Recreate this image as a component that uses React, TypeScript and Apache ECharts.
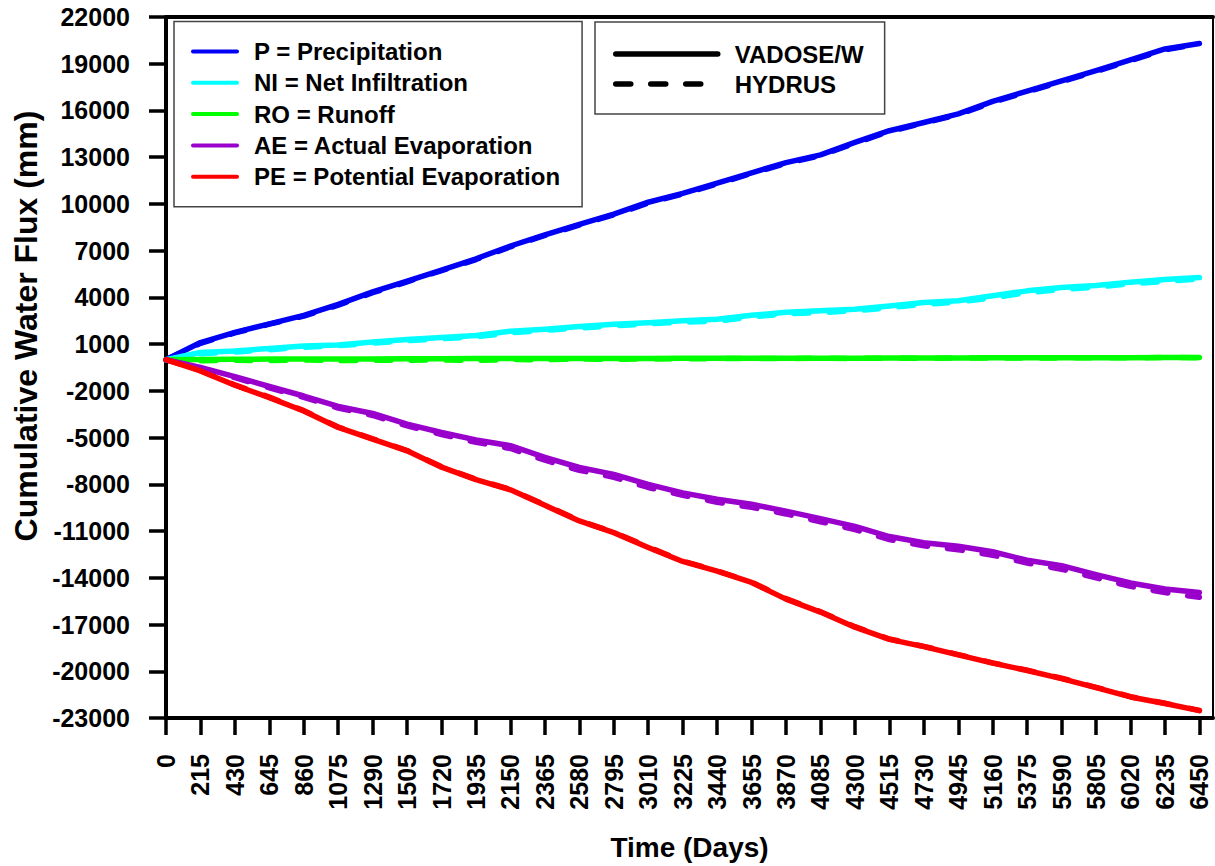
import React, { useEffect, useRef } from 'react';
import * as echarts from 'echarts';

// Time axis (days) – sampling points and tick labels
const days = [
  0, 215, 430, 645, 860, 1075, 1290, 1505, 1720, 1935, 2150, 2365, 2580, 2795, 3010, 3225,
  3440, 3655, 3870, 4085, 4300, 4515, 4730, 4945, 5160, 5375, 5590, 5805, 6020, 6235, 6450,
];

// Cumulative water flux tick labels (mm)
const fluxTicks = [
  -23000, -20000, -17000, -14000, -11000, -8000, -5000, -2000, 1000, 4000, 7000, 10000,
  13000, 16000, 19000, 22000,
];

// VADOSE/W results (mm)
const precipVadose = [
  0, 1100, 1750, 2300, 2850, 3550, 4350, 5050, 5750, 6480, 7300, 8020, 8690, 9350, 10110, 10680,
  11330, 12000, 12650, 13150, 13950, 14700, 15230, 15780, 16580, 17240, 17900, 18560, 19250, 19950, 20300,
];
const infilVadose = [
  0, 460, 560, 720, 880, 950, 1140, 1300, 1420, 1550, 1830, 1960, 2130, 2280, 2380, 2500,
  2600, 2850, 3040, 3140, 3240, 3450, 3670, 3790, 4110, 4420, 4640, 4760, 4980, 5150, 5270,
];
const runoffVadose = [
  0, 20, 30, 40, 40, 50, 50, 60, 60, 70, 70, 70, 80, 80, 80, 90,
  90, 90, 100, 100, 100, 110, 110, 110, 120, 120, 130, 130, 130, 140, 140,
];
const actEvapVadose = [
  0, -500, -1080, -1720, -2330, -3000, -3450, -4130, -4670, -5150, -5520, -6270, -6920, -7360, -8000, -8550,
  -8960, -9280, -9720, -10200, -10700, -11350, -11750, -11980, -12330, -12870, -13220, -13800, -14330, -14720, -14950,
];
const potEvapVadose = [
  0, -720, -1640, -2430, -3290, -4350, -5100, -5850, -6900, -7700, -8350, -9350, -10350, -11100, -12050, -12950,
  -13570, -14300, -15370, -16200, -17170, -17950, -18420, -18950, -19480, -19950, -20470, -21050, -21650, -22070, -22530,
];

// HYDRUS results (mm)
const precipHydrus = [
  0, 1050, 1720, 2280, 2800, 3500, 4300, 5000, 5720, 6430, 7250, 7980, 8640, 9300, 10050, 10640,
  11280, 11960, 12600, 13100, 13900, 14650, 15190, 15740, 16520, 17200, 17850, 18500, 19200, 19900, 20250,
];
const infilHydrus = [
  0, 380, 500, 640, 800, 900, 1060, 1220, 1350, 1470, 1720, 1880, 2030, 2180, 2300, 2410,
  2480, 2740, 2950, 3020, 3150, 3330, 3560, 3700, 3980, 4300, 4510, 4650, 4870, 5020, 5180,
];
const runoffHydrus = [
  0, -60, -40, -50, -20, -60, -30, -40, -10, -40, 10, 0, 40, 30, 50, 60,
  70, 70, 80, 90, 80, 100, 90, 110, 100, 120, 110, 130, 120, 140, 130,
];
const actEvapHydrus = [
  0, -560, -1150, -1800, -2420, -3100, -3580, -4250, -4800, -5300, -5700, -6450, -7100, -7550, -8200, -8700,
  -9150, -9480, -9900, -10400, -10900, -11550, -11950, -12200, -12550, -13050, -13450, -14000, -14550, -14950, -15250,
];
const potEvapHydrus = [
  0, -700, -1620, -2400, -3270, -4320, -5080, -5830, -6870, -7680, -8330, -9320, -10330, -11080, -12020, -12920,
  -13550, -14280, -15340, -16180, -17140, -17930, -18400, -18930, -19460, -19930, -20450, -21030, -21630, -22050, -22510,
];

const fluxNames = [
  'P = Precipitation',
  'NI = Net Infiltration',
  'RO = Runoff',
  'AE = Actual Evaporation',
  'PE = Potential Evaporation',
];
const fluxColors = ['#0000f5', '#00ffff', '#00ff00', '#9900cc', '#ff0000'];
const vadoseSets = [precipVadose, infilVadose, runoffVadose, actEvapVadose, potEvapVadose];
const hydrusSets = [precipHydrus, infilHydrus, runoffHydrus, actEvapHydrus, potEvapHydrus];

const FONT = "'Liberation Sans', Arial, Helvetica, sans-serif";
const DASH = [15, 20];

const toPairs = (ys: number[]) => days.map((d, i) => [d, ys[i]]);

export default function App() {
  const ref = useRef<HTMLDivElement>(null);

  useEffect(() => {
    const chart = echarts.init(ref.current!, null, { renderer: 'svg' });

    const series: any[] = [];
    fluxNames.forEach((name, k) => {
      series.push({
        name,
        type: 'line',
        data: toPairs(vadoseSets[k]),
        symbol: 'none',
        color: fluxColors[k],
        lineStyle: { width: 5.5, color: fluxColors[k], cap: 'round', join: 'round' },
        z: 3,
      });
    });
    fluxNames.forEach((name, k) => {
      series.push({
        name,
        type: 'line',
        data: toPairs(hydrusSets[k]),
        symbol: 'none',
        color: fluxColors[k],
        lineStyle: { width: 5.5, color: fluxColors[k], type: DASH, cap: 'round' },
        z: 2,
      });
    });
    series.push({
      name: 'VADOSE/W',
      type: 'line',
      data: [],
      symbol: 'none',
      color: '#000',
      lineStyle: { width: 5, color: '#000', cap: 'round' },
    });
    series.push({
      name: 'HYDRUS',
      type: 'line',
      data: [],
      symbol: 'none',
      color: '#000',
      lineStyle: { width: 6, color: '#000', type: DASH, cap: 'round' },
    });

    const legendText = {
      fontFamily: FONT,
      fontSize: 24,
      fontWeight: 'bold',
      color: '#000',
      lineHeight: 24,
      padding: [0, 0, 0, 12],
    };

    chart.setOption({
      animation: false,
      backgroundColor: '#fff',
      grid: {
        left: 166,
        top: 17,
        right: 2,
        bottom: 147,
        show: true,
        borderColor: '#000',
        borderWidth: 2,
        backgroundColor: 'transparent',
      },
      legend: [
        {
          data: fluxNames,
          orient: 'vertical',
          left: 174,
          top: 21.5,
          padding: [18, 22, 18, 17],
          itemGap: 7.3,
          itemWidth: 44,
          itemHeight: 24,
          borderColor: '#444',
          borderWidth: 1.5,
          backgroundColor: '#fff',
          itemStyle: { opacity: 0 },
          lineStyle: { width: 4, cap: 'round' },
          textStyle: legendText,
        },
        {
          data: ['VADOSE/W', 'HYDRUS'],
          orient: 'vertical',
          left: 595,
          top: 22,
          padding: [20, 21, 18, 18],
          itemGap: 6,
          itemWidth: 102,
          itemHeight: 24,
          borderColor: '#444',
          borderWidth: 1.5,
          backgroundColor: '#fff',
          selectedMode: false,
          itemStyle: { opacity: 0 },
          lineStyle: { width: 5.5, cap: 'round' },
          textStyle: legendText,
        },
      ],
      xAxis: [
        {
          type: 'value',
          min: 0,
          max: 6535,
          name: 'Time (Days)',
          nameLocation: 'middle',
          nameGap: 115,
          nameTextStyle: { fontFamily: FONT, fontSize: 28, fontWeight: 'bold', color: '#000' },
          axisLine: { show: true, onZero: false, lineStyle: { color: '#000', width: 4 } },
          axisTick: {
            show: true,
            inside: false,
            length: 17,
            customValues: days,
            lineStyle: { color: '#000', width: 3.5 },
          },
          axisLabel: {
            customValues: days,
            rotate: 90,
            margin: 36,
            fontFamily: FONT,
            fontSize: 25,
            fontWeight: 'bold',
            color: '#000',
            formatter: (v: number) => String(v),
          },
          splitLine: { show: false },
        },
        {
          type: 'value',
          position: 'top',
          min: 0,
          max: 6535,
          axisLine: { show: true, onZero: false, lineStyle: { color: '#000', width: 4 } },
          axisTick: { show: false },
          axisLabel: { show: false },
          splitLine: { show: false },
        },
      ],
      yAxis: {
        type: 'value',
        min: -23000,
        max: 22000,
        axisLine: { show: true, onZero: false, lineStyle: { color: '#000', width: 4 } },
        axisTick: {
          show: true,
          inside: false,
          length: 17,
          customValues: fluxTicks,
          lineStyle: { color: '#000', width: 3.5 },
        },
        axisLabel: {
          customValues: fluxTicks,
          margin: 36,
          fontFamily: FONT,
          fontSize: 25,
          fontWeight: 'bold',
          color: '#000',
          formatter: (v: number) => String(v),
        },
        splitLine: { show: false },
      },
      graphic: [
        {
          type: 'text',
          x: 26,
          y: 326,
          rotation: Math.PI / 2,
          style: {
            text: 'Cumulative Water Flux (mm)',
            fontFamily: FONT,
            fontSize: 32,
            fontWeight: 'bold',
            fill: '#000',
            align: 'center',
            verticalAlign: 'middle',
          },
        },
      ],
      series,
    });

    return () => chart.dispose();
  }, []);

  return (
    <div
      ref={ref}
      style={{ position: 'absolute', left: 0, top: 0, width: 1215, height: 866 }}
    />
  );
}
